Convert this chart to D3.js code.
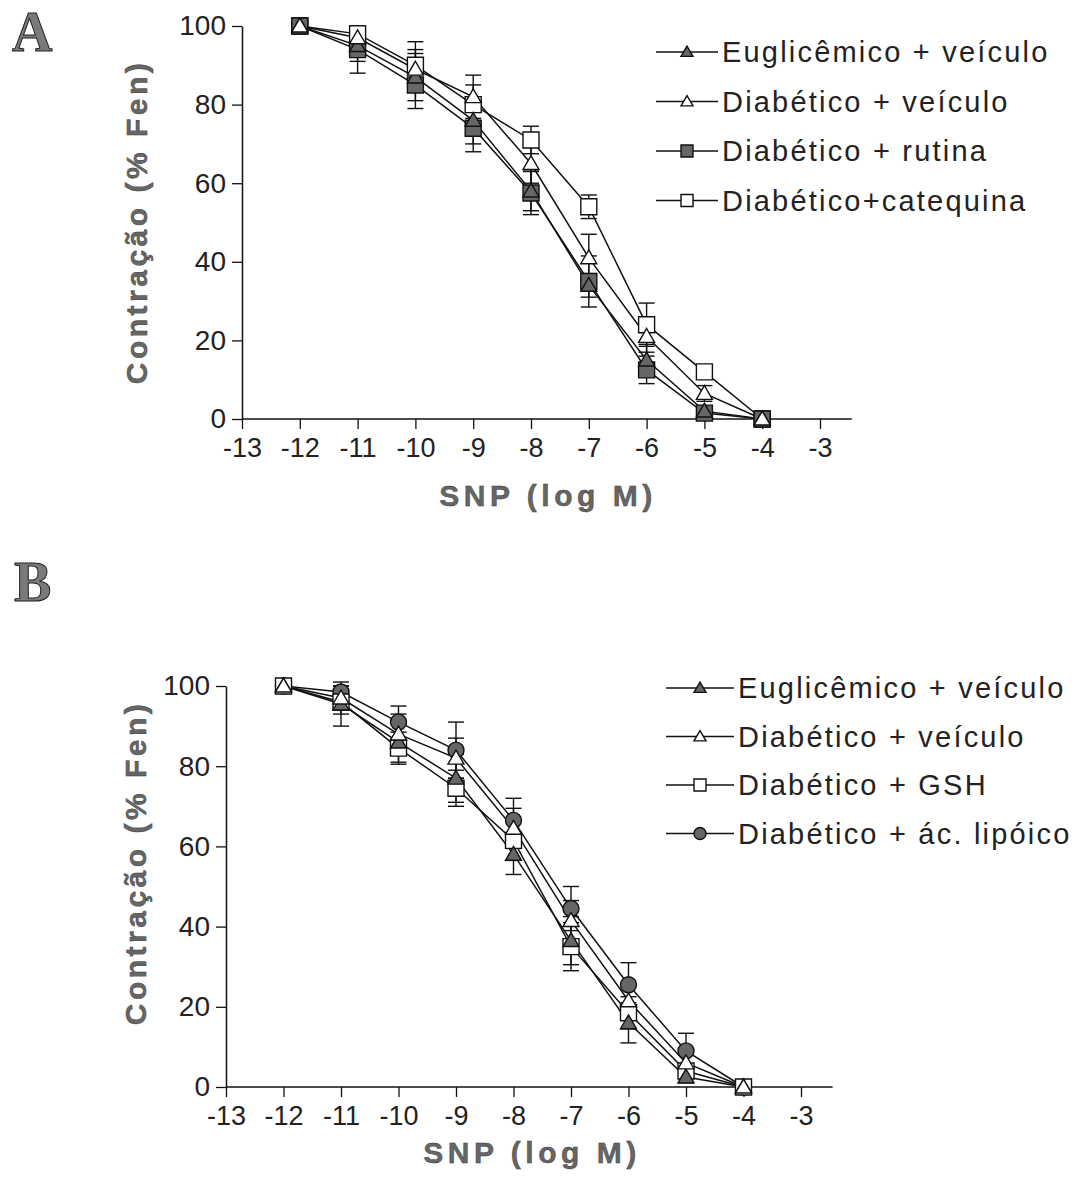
<!DOCTYPE html>
<html>
<head>
<meta charset="utf-8">
<script src="https://cdn.jsdelivr.net/npm/d3@7"></script>
<style>
  body { margin: 0; background: #fff; }
  svg { display: block; }
</style>
</head>
<body>
<svg id="fig" width="1074" height="1195"></svg>
<script>
// SNP concentrations (log M) and axis ticks
const doses = [-12, -11, -10, -9, -8, -7, -6, -5, -4];
const xTickValues = [-13, -12, -11, -10, -9, -8, -7, -6, -5, -4, -3];
const yTickValues = [0, 20, 40, 60, 80, 100];

// Panel A: contraction (% Fen), mean and SEM
const euglicemicoA = [100, 95, 87, 76, 58, 34, 15, 2, 0];
const euglicemicoAErr = [0, 4, 6, 6, 5, 3, 4, 1, 0];
const diabVeiculoA = [100, 97, 89, 82, 65, 41, 21, 6.5, 0];
const diabVeiculoAErr = [0, 3, 5, 5.5, 5, 6, 4, 2, 0];
const rutinaA = [100, 94, 85, 74, 57.5, 35, 12.5, 1.5, 0];
const rutinaAErr = [0, 6, 6, 6, 5.5, 6.5, 3.5, 1, 0];
const catequinaA = [100, 98, 90, 80, 71, 54, 24, 12, 0];
const catequinaAErr = [0, 2, 6, 5, 3.5, 3, 5.5, 1.5, 0];

// Panel B: contraction (% Fen), mean and SEM
const euglicemicoB = [100, 95.5, 86, 77, 58, 36.5, 16, 2.5, 0];
const euglicemicoBErr = [0, 5.5, 5, 6, 5, 6, 5, 1.5, 0];
const diabVeiculoB = [100, 97, 88, 82, 64.5, 41.5, 21.5, 6, 0];
const diabVeiculoBErr = [0, 3, 5, 5, 5, 5, 4, 2, 0];
const gshB = [100, 96, 84.5, 74.5, 61.5, 35, 18.5, 4, 0];
const gshBErr = [0, 3, 4, 4.5, 5, 6, 4, 1.5, 0];
const lipoicoB = [100, 98.5, 91, 84, 66.5, 44.5, 25.5, 9, 0];
const lipoicoBErr = [0, 1.5, 4, 7, 5.5, 5.5, 5.5, 4.4, 0];

// Legend labels
const labelsA = ["Euglicêmico + veículo", "Diabético + veículo", "Diabético + rutina", "Diabético+catequina"];
const labelsB = ["Euglicêmico + veículo", "Diabético + veículo", "Diabético + GSH", "Diabético + ác. lipóico"];

const INK = "#111";
const GREY = "#666";
const SANS = "'Liberation Sans', Arial, sans-serif";

const svg = d3.select("#fig");

function markerPath(type, size) {
  const kind = type.startsWith("tri") ? d3.symbolTriangle
             : type.startsWith("sq") ? d3.symbolSquare
             : d3.symbolCircle;
  let area;
  if (kind === d3.symbolTriangle) area = Math.sqrt(3) / 4 * size * size;
  else if (kind === d3.symbolSquare) area = size * size;
  else area = Math.PI * (size / 2) * (size / 2);
  return d3.symbol().type(kind).size(area)();
}

function drawMarker(g, type, cx, cy, size) {
  const filled = type.endsWith("Filled");
  const dy = type.startsWith("tri") ? size * 0.08 : 0;
  g.append("path")
    .attr("d", markerPath(type, size))
    .attr("transform", `translate(${cx},${cy + dy})`)
    .attr("fill", filled ? GREY : "#fff")
    .attr("stroke", INK)
    .attr("stroke-width", 1.4);
}

function drawPanel(cfg) {
  const x = d3.scaleLinear().domain([-13, -3]).range(cfg.xRange);
  const y = d3.scaleLinear().domain([0, 100]).range(cfg.yRange);
  const g = svg.append("g");

  // panel letter
  g.append("text")
    .attr("x", cfg.letterPos[0]).attr("y", cfg.letterPos[1])
    .attr("font-family", "'Liberation Serif', 'DejaVu Serif', serif")
    .attr("font-weight", "bold")
    .attr("font-size", 56)
    .attr("fill", "#7a7a7a")
    .attr("stroke", "#222")
    .attr("stroke-width", 1)
    .text(cfg.letter);

  // x axis
  const xAxis = g.append("g")
    .attr("transform", `translate(0,${y(0)})`)
    .call(d3.axisBottom(x).tickValues(xTickValues).tickFormat(d => String(d))
      .tickSize(10).tickPadding(9).tickSizeOuter(0));
  xAxis.select(".domain").remove();
  xAxis.append("line")
    .attr("x1", x(-13)).attr("x2", x(-2.45))
    .attr("stroke", INK).attr("stroke-width", 1.5);
  xAxis.selectAll(".tick line").attr("stroke", INK).attr("stroke-width", 1.3);
  xAxis.selectAll(".tick text")
    .attr("font-family", SANS)
    .attr("font-size", 27).attr("fill", "#222");

  // y axis
  const yAxis = g.append("g")
    .attr("transform", `translate(${x(-13)},0)`)
    .call(d3.axisLeft(y).tickValues(yTickValues).tickFormat(d => String(d))
      .tickSize(10).tickPadding(6).tickSizeOuter(0));
  yAxis.select(".domain").attr("stroke", INK).attr("stroke-width", 1.5);
  yAxis.selectAll(".tick line").attr("stroke", INK).attr("stroke-width", 1.3);
  yAxis.selectAll(".tick text")
    .attr("font-family", SANS)
    .attr("font-size", 28).attr("fill", "#222");

  // axis titles
  g.append("text")
    .attr("transform", `translate(${cfg.yTitlePos[0]},${cfg.yTitlePos[1]}) rotate(-90)`)
    .attr("text-anchor", "middle")
    .attr("font-family", SANS)
    .attr("font-weight", "bold")
    .attr("font-size", 30)
    .attr("letter-spacing", 3.5)
    .attr("fill", "#666")
    .attr("stroke", "#333")
    .attr("stroke-width", 0.4)
    .text("Contração (% Fen)");
  g.append("text")
    .attr("x", cfg.xTitlePos[0]).attr("y", cfg.xTitlePos[1])
    .attr("text-anchor", "middle")
    .attr("font-family", SANS)
    .attr("font-weight", "bold")
    .attr("font-size", 30)
    .attr("letter-spacing", 4.5)
    .attr("fill", "#666")
    .attr("stroke", "#333")
    .attr("stroke-width", 0.4)
    .text("SNP (log M)");

  const line = d3.line().x(d => x(d.dose)).y(d => y(d.v));

  // connecting lines
  cfg.series.forEach(s => {
    const pts = doses.map((dose, i) => ({ dose, v: s.values[i] }));
    g.append("path")
      .attr("d", line(pts))
      .attr("fill", "none")
      .attr("stroke", INK)
      .attr("stroke-width", 1.5);
  });

  // error bars
  const cap = 8;
  cfg.series.forEach(s => {
    doses.forEach((dose, i) => {
      const e = s.errors[i];
      if (!e) return;
      const cx = x(dose), top = y(s.values[i] + e), bot = y(s.values[i] - e);
      g.append("line").attr("x1", cx).attr("x2", cx).attr("y1", top).attr("y2", bot)
        .attr("stroke", INK).attr("stroke-width", 1.4);
      [top, bot].forEach(yy => g.append("line")
        .attr("x1", cx - cap).attr("x2", cx + cap).attr("y1", yy).attr("y2", yy)
        .attr("stroke", INK).attr("stroke-width", 1.4));
    });
  });

  // markers, in drawing order
  cfg.drawOrder.forEach(k => {
    const s = cfg.series[k];
    doses.forEach((dose, i) => drawMarker(g, s.marker, x(dose), y(s.values[i]), 16));
  });

  // legend
  cfg.series.forEach((s, i) => {
    const ly = cfg.legendPos[1] + i * cfg.legendStep;
    const lx = cfg.legendPos[0];
    g.append("line").attr("x1", lx).attr("x2", lx + cfg.legendLine).attr("y1", ly).attr("y2", ly)
      .attr("stroke", INK).attr("stroke-width", 1.4);
    drawMarker(g, s.marker, lx + cfg.legendLine / 2, ly, 12);
    g.append("text")
      .attr("x", lx + cfg.legendLine + 4).attr("y", ly)
      .attr("dy", "0.36em")
      .attr("font-family", SANS)
      .attr("font-size", 29)
      .attr("letter-spacing", 2.2)
      .attr("fill", "#222")
      .text(s.label);
  });
}

drawPanel({
  letter: "A", letterPos: [12, 51],
  xRange: [242, 820], yRange: [419, 26],
  yTitlePos: [147, 222], xTitlePos: [548, 506],
  legendPos: [656, 52], legendStep: 49.5, legendLine: 62,
  series: [
    { label: labelsA[0], values: euglicemicoA, errors: euglicemicoAErr, marker: "triFilled" },
    { label: labelsA[1], values: diabVeiculoA, errors: diabVeiculoAErr, marker: "triOpen" },
    { label: labelsA[2], values: rutinaA, errors: rutinaAErr, marker: "sqFilled" },
    { label: labelsA[3], values: catequinaA, errors: catequinaAErr, marker: "sqOpen" }
  ],
  drawOrder: [3, 2, 0, 1]
});

drawPanel({
  letter: "B", letterPos: [14, 601],
  xRange: [226, 801], yRange: [1087, 686],
  yTitlePos: [146, 863], xTitlePos: [532, 1163],
  legendPos: [666, 688], legendStep: 48.5, legendLine: 68,
  series: [
    { label: labelsB[0], values: euglicemicoB, errors: euglicemicoBErr, marker: "triFilled" },
    { label: labelsB[1], values: diabVeiculoB, errors: diabVeiculoBErr, marker: "triOpen" },
    { label: labelsB[2], values: gshB, errors: gshBErr, marker: "sqOpen" },
    { label: labelsB[3], values: lipoicoB, errors: lipoicoBErr, marker: "circFilled" }
  ],
  drawOrder: [3, 2, 0, 1]
});
</script>
</body>
</html>
